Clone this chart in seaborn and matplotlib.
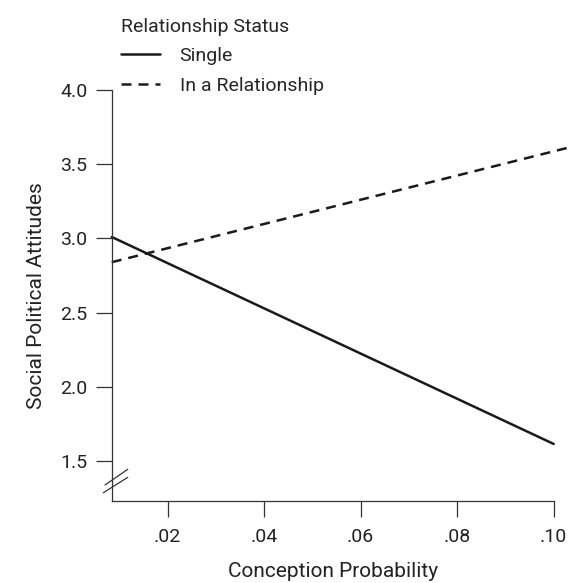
import pandas as pd
import matplotlib
matplotlib.use("Agg")
import matplotlib.pyplot as plt
import seaborn as sns

# values
single_x = [0.0084, 0.10]
single_y = [3.01, 1.615]
rel_x = [0.0084, 0.104]
rel_y = [2.84, 3.62]
x_ticks = [0.02, 0.04, 0.06, 0.08, 0.10]
x_tick_labels = [".02", ".04", ".06", ".08", ".10"]
y_ticks = [1.5, 2.0, 2.5, 3.0, 3.5, 4.0]
y_tick_labels = ["1.5", "2.0", "2.5", "3.0", "3.5", "4.0"]

df = pd.concat([
    pd.DataFrame({"prob": single_x, "att": single_y, "status": "Single"}),
    pd.DataFrame({"prob": rel_x, "att": rel_y, "status": "In a Relationship"}),
])

sns.set_style("white")
plt.rcParams["font.family"] = ["Roboto", "DejaVu Sans"]

fig = plt.figure(figsize=(5.73, 5.83), dpi=100)
ax = fig.add_axes([0.195, 0.1415, 0.805, 0.704])

sns.lineplot(
    data=df, x="prob", y="att", hue="status", style="status",
    palette={"Single": "#1a1a1a", "In a Relationship": "#1a1a1a"},
    dashes={"Single": "", "In a Relationship": (4, 2.8)},
    linewidth=1.8, ax=ax, clip_on=False,
)

ax.set_xlim(0.0084, 0.104)
ax.set_ylim(1.234, 4.0)
ax.set_xticks(x_ticks)
ax.set_xticklabels(x_tick_labels)
ax.set_yticks(y_ticks)
ax.set_yticklabels(y_tick_labels)
ax.tick_params(direction="out", length=11.5, width=0.9, color="#333333",
               labelsize=14, pad=6, labelcolor="#222222")
ax.tick_params(axis="x", bottom=True, pad=8)
ax.tick_params(axis="y", left=True)

for s in ["top", "right"]:
    ax.spines[s].set_visible(False)
for s in ["left", "bottom"]:
    ax.spines[s].set_color("#333333")
    ax.spines[s].set_linewidth(0.9)
ax.spines["bottom"].set_bounds(0.0084, 0.10)
ax.spines["left"].set_bounds(1.234, 4.0)

ax.set_xlabel("Conception Probability", fontsize=15, color="#222222")
ax.set_ylabel("Social Political Attitudes", fontsize=15, color="#222222", labelpad=10)
ax.xaxis.set_label_coords(0.48, -0.15)

# axis break marks
for y0, y1, xa in [(0.0378, 0.0760, -0.0145), (0.0190, 0.0565, -0.0182)]:
    ax.plot([xa, 0.0347], [y0, y1], transform=ax.transAxes, color="#333333",
            lw=0.9, clip_on=False)

leg = ax.legend(title="Relationship Status", loc="upper left",
                bbox_to_anchor=(0.181, 1.0), bbox_transform=fig.transFigure,
                frameon=False, fontsize=14, title_fontsize=14, alignment="left",
                handlelength=2.0, handletextpad=1.0, labelspacing=0.6)

fig.savefig("out.png", dpi=100)
